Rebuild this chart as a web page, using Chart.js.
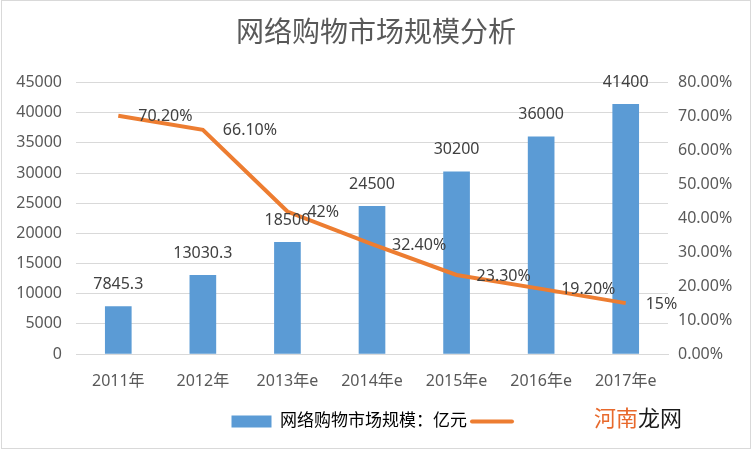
<!DOCTYPE html>
<html lang="zh-CN">
<head>
<meta charset="UTF-8">
<title>网络购物市场规模分析</title>
<script src="https://cdn.jsdelivr.net/npm/chart.js@4.4.0/dist/chart.umd.min.js"></script>
<style>
    html, body { margin: 0; padding: 0; background: #ffffff; }
    #wrap { position: relative; width: 752px; height: 452px; }
    #watermark {
        position: absolute; left: 594px; top: 405px;
        font: 22px/22px "Noto Sans CJK SC", sans-serif;
        white-space: nowrap;
    }
</style>
</head>
<body>
<div id="wrap">
    <canvas id="myChart" width="752" height="452"></canvas>
    <div id="watermark"><span style="color:#e8692c">河南</span><span style="color:#1a1a1a">龙网</span></div>
</div>

<script>
// dati del grafico
const years = ['2011年', '2012年', '2013年e', '2014年e', '2015年e', '2016年e', '2017年e'];
const marketSize = [7845.3, 13030.3, 18500, 24500, 30200, 36000, 41400];
const growthRate = [70.2, 66.1, 42, 32.4, 23.3, 19.2, 15];
const rateLabels = ['70.20%', '66.10%', '42%', '32.40%', '23.30%', '19.20%', '15%'];
const seriesName = '网络购物市场规模：亿元';
const chartTitle = '网络购物市场规模分析';

const FONT = '"Noto Sans", "Noto Sans CJK SC", sans-serif';
Chart.defaults.font.family = FONT;
Chart.defaults.color = '#595959';

// sfondo bianco e bordo grigio del riquadro
const frame = {
    id: 'frame',
    beforeDraw(chart) {
        const ctx = chart.ctx;
        ctx.save();
        ctx.fillStyle = '#ffffff';
        ctx.fillRect(0, 0, chart.width, chart.height);
        ctx.strokeStyle = '#d9d9d9';
        ctx.lineWidth = 1;
        ctx.strokeRect(1.5, 0.5, 749, 448);
        ctx.restore();
    }
};

// etichette sui valori
const valueLabels = {
    id: 'valueLabels',
    afterDatasetsDraw(chart) {
        const ctx = chart.ctx;
        ctx.save();
        ctx.font = '16px ' + FONT;
        ctx.fillStyle = '#404040';
        ctx.textBaseline = 'middle';
        ctx.textAlign = 'center';
        chart.getDatasetMeta(0).data.forEach((bar, i) => {
            ctx.fillText(String(marketSize[i]), bar.x, bar.y - 22);
        });
        ctx.textAlign = 'left';
        chart.getDatasetMeta(1).data.forEach((pt, i) => {
            ctx.fillText(rateLabels[i], pt.x + 20, pt.y + 1);
        });
        ctx.restore();
    }
};

const config = {
    data: {
        labels: years,
        datasets: [{
            type: 'bar',
            label: seriesName,
            data: marketSize,
            backgroundColor: '#5b9bd5',
            barThickness: 26,
            yAxisID: 'y',
            order: 2
        }, {
            type: 'line',
            label: '',
            data: growthRate,
            borderColor: '#ed7d31',
            borderWidth: 4,
            pointRadius: 0,
            tension: 0,
            yAxisID: 'y1',
            order: 1
        }]
    },
    options: {
        responsive: false,
        animation: false,
        layout: { padding: { left: 0, right: 0, top: 0, bottom: 12 } },
        plugins: {
            tooltip: { enabled: false },
            title: {
                display: true,
                text: chartTitle,
                color: '#595959',
                font: { size: 28, weight: 'normal' },
                padding: { top: 17, bottom: 32 }
            },
            legend: {
                position: 'bottom',
                labels: {
                    usePointStyle: true,
                    pointStyleWidth: 40,
                    boxHeight: 12,
                    padding: 5,
                    color: '#595959',
                    font: { size: 17 },
                    generateLabels: () => [
                        { text: seriesName, fillStyle: '#5b9bd5', strokeStyle: '#5b9bd5', lineWidth: 0, pointStyle: 'rect', datasetIndex: 0 },
                        { text: '', fillStyle: '#ed7d31', strokeStyle: '#ed7d31', lineWidth: 4, lineCap: 'round', pointStyle: 'line', datasetIndex: 1 }
                    ]
                }
            }
        },
        scales: {
            x: {
                grid: { display: false },
                border: { display: true, color: '#d9d9d9' },
                ticks: { font: { size: 16 }, padding: 10, color: '#595959' },
                afterFit: s => { s.height = 54; }
            },
            y: {
                position: 'left',
                min: 0,
                max: 45000,
                ticks: { stepSize: 5000, font: { size: 16 }, padding: 14, color: '#595959', callback: v => String(v) },
                grid: { color: '#d9d9d9', drawTicks: false },
                border: { display: false },
                afterFit: s => { s.width = 76; }
            },
            y1: {
                position: 'right',
                min: 0,
                max: 80,
                ticks: {
                    stepSize: 10,
                    font: { size: 16 },
                    padding: 10,
                    color: '#595959',
                    callback: v => v.toFixed(2) + '%'
                },
                grid: { display: false, drawTicks: false },
                border: { display: false },
                afterFit: s => { s.width = 84; }
            }
        }
    },
    plugins: [frame, valueLabels]
};

const myChart = new Chart(document.getElementById('myChart'), config);
</script>
</body>
</html>
